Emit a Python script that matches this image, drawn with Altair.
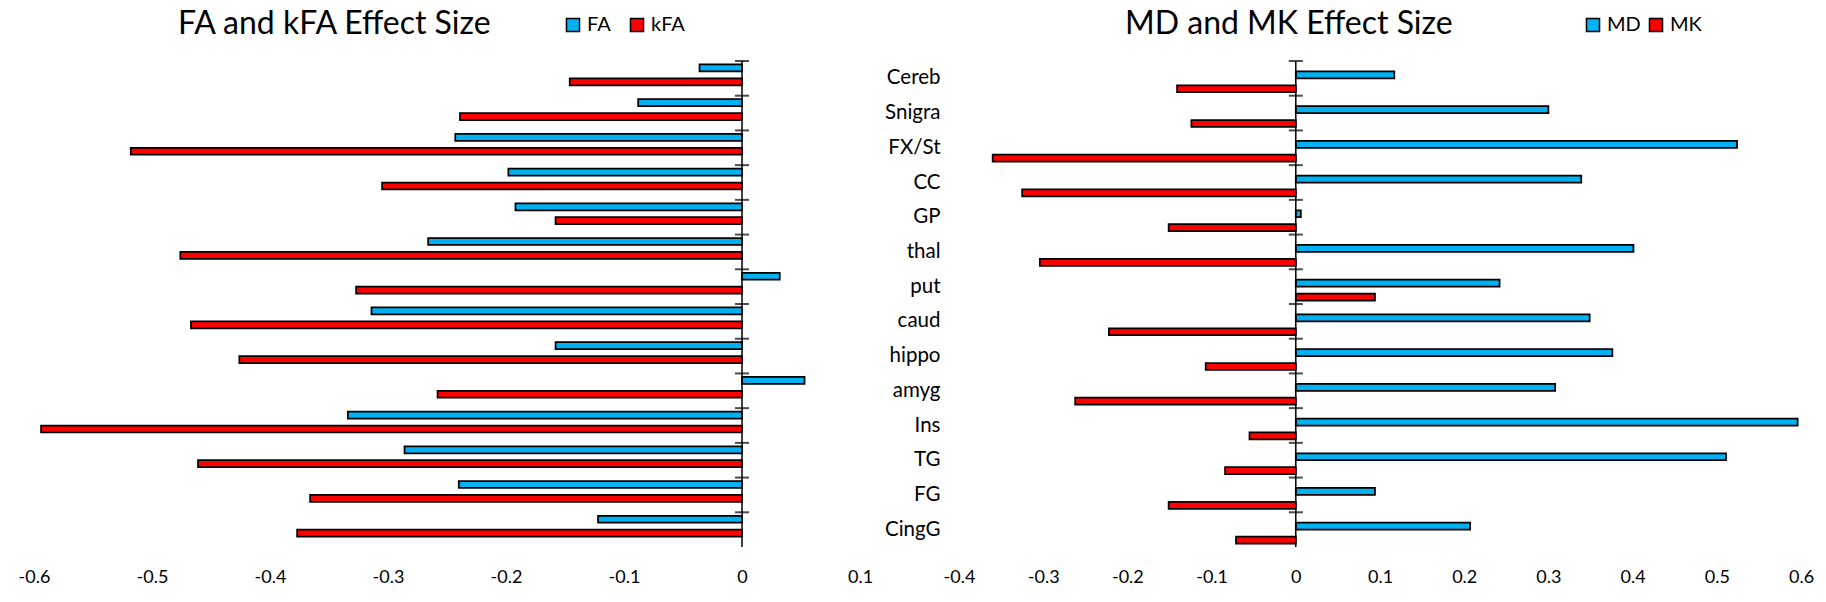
import altair as alt
import pandas as pd

cats = ["Cereb", "Snigra", "FX/St", "CC", "GP", "thal", "put", "caud",
        "hippo", "amyg", "Ins", "TG", "FG", "CingG"]
FA = [-0.036, -0.088, -0.243, -0.198, -0.192, -0.266, 0.032, -0.314,
      -0.158, 0.053, -0.334, -0.286, -0.240, -0.122]
kFA = [-0.146, -0.239, -0.518, -0.305, -0.158, -0.476, -0.327, -0.467,
       -0.426, -0.258, -0.594, -0.461, -0.366, -0.377]
MD = [0.117, 0.300, 0.524, 0.339, 0.006, 0.401, 0.242, 0.349,
      0.376, 0.308, 0.596, 0.511, 0.094, 0.207]
MK = [-0.141, -0.124, -0.360, -0.325, -0.151, -0.304, 0.094, -0.222,
      -0.107, -0.262, -0.055, -0.084, -0.151, -0.071]

left_ticks = [-0.6, -0.5, -0.4, -0.3, -0.2, -0.1, 0, 0.1]
right_ticks = [-0.4, -0.3, -0.2, -0.1, 0, 0.1, 0.2, 0.3, 0.4, 0.5, 0.6]

BLUE = "#00B0F0"
RED = "#FF0000"
FONT = "Lato"

W1, W2, H = 826, 842, 486

label_expr = ("datum.value == 0 ? '0' : (datum.value < 0 ? '-' + format(-datum.value, '.1f') "
              ": format(datum.value, '.1f'))")


def long_df(a, b, na, nb):
    rows = []
    for c, va, vb in zip(cats, a, b):
        rows.append({"cat": c, "series": na, "value": va})
        rows.append({"cat": c, "series": nb, "value": vb})
    return pd.DataFrame(rows)


cat_df = pd.DataFrame({"cat": cats})
zero_df = pd.DataFrame({"z": [0]})


def panel(df, names, domain, ticks, width, title, title_x, legend_x, col_pad, show_labels):
    yaxis = None
    if show_labels:
        yaxis = alt.Axis(domain=False, ticks=False, labelPadding=19, labelFontSize=20.5,
                         labelFont=FONT, labelColor="black", title=None)
    yscale = alt.Scale(paddingInner=0, paddingOuter=0)
    xscale = alt.Scale(domain=domain, nice=False, zero=False)
    xaxis = alt.Axis(values=ticks, labelExpr=label_expr, domain=False, ticks=False, grid=False,
                     labelFlush=False, labelFontSize=18, labelFont=FONT, labelColor="black",
                     labelPadding=21, title=None)
    bars = alt.Chart(df).mark_bar(stroke="black", strokeWidth=1.75).encode(
        y=alt.Y("cat:N", sort=cats, scale=yscale, axis=yaxis),
        yOffset=alt.YOffset("series:N", sort=names,
                            scale=alt.Scale(paddingInner=0, paddingOuter=0.5)),
        x=alt.X("value:Q", scale=xscale, axis=xaxis),
        color=alt.Color("series:N", sort=names,
                        scale=alt.Scale(domain=names, range=[BLUE, RED]),
                        legend=alt.Legend(orient="none", legendX=legend_x, legendY=-46,
                                          direction="horizontal", title=None,
                                          symbolType="square", symbolSize=170,
                                          symbolStrokeColor="black", symbolStrokeWidth=1.5,
                                          labelFontSize=20, labelFont=FONT, labelColor="black",
                                          columnPadding=col_pad, labelOffset=4)),
    )
    axis_line = alt.Chart(zero_df).mark_rule(color="black", strokeWidth=1.5).encode(
        x=alt.X("z:Q"), y=alt.value(0), y2=alt.value(H))
    tick_marks = alt.Chart(cat_df).mark_tick(orient="horizontal", size=14, thickness=2,
                                             color="black").encode(
        y=alt.Y("cat:N", sort=cats, bandPosition=0),
        x=alt.datum(0),
    )
    title_mark = alt.Chart(zero_df).mark_text(
        text=title, align="left", baseline="alphabetic", fontSize=32, font=FONT,
        color="black").encode(x=alt.value(title_x), y=alt.value(-27))
    return alt.layer(bars, axis_line, tick_marks, title_mark).properties(
        width=width, height=H)


left = panel(long_df(FA, kFA, "FA", "kFA"), ["FA", "kFA"], [-0.6, 0.1], left_ticks, W1,
             "FA and kFA Effect Size", 144, 529, 16, False)
right = panel(long_df(MD, MK, "MD", "MK"), ["MD", "MK"], [-0.4, 0.6], right_ticks, W2,
              "MD and MK Effect Size", 166, 624, 5, True)

chart = alt.hconcat(left, right, spacing=11).resolve_scale(
    color="independent", x="independent", y="independent"
).properties(
    padding={"left": 10, "top": 0, "right": 2, "bottom": 5},
    background="white",
).configure_view(stroke=None)

chart.save("out.html", embed_options={"renderer": "svg", "actions": False})
